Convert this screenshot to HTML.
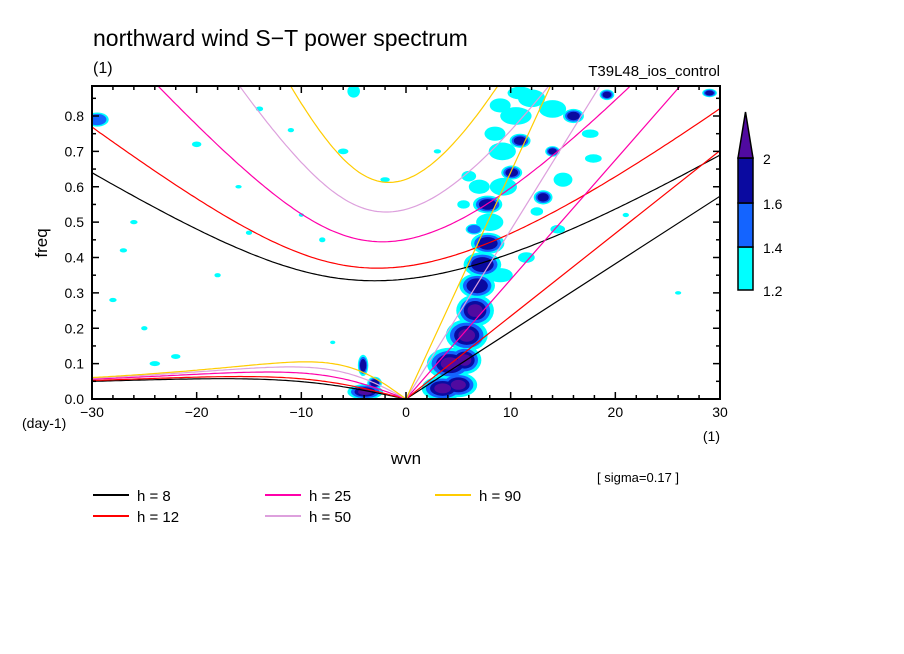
<!DOCTYPE html>
<html><head><meta charset="utf-8"><style>
body{margin:0;background:#fff;}
svg{display:block;font-family:"Liberation Sans",sans-serif;}
</style></head><body>
<svg id="chart" width="904" height="654" viewBox="0 0 904 654">
<defs><clipPath id="pc"><rect x="92" y="86" width="628" height="313"/></clipPath></defs>
<text x="93" y="46" font-size="23">northward wind S−T power spectrum</text>
<text x="93" y="73" font-size="16">(1)</text>
<text x="720" y="76" font-size="15" text-anchor="end">T39L48_ios_control</text>
<g id="blobs" clip-path="url(#pc)"></g>
<g id="curves" clip-path="url(#pc)"></g>
<g id="axes"></g>
<text transform="translate(47,243) rotate(-90)" font-size="17" text-anchor="middle">freq</text>
<text x="22" y="428" font-size="14">(day-1)</text>
<text x="720" y="441" font-size="14" text-anchor="end">(1)</text>
<text x="406" y="464" font-size="17" text-anchor="middle">wvn</text>
<text x="597" y="482" font-size="13">[ sigma=0.17 ]</text>
<g id="legend"></g>
<g id="cbar"></g>
</svg>
<script>
const heights=[8,12,25,50,90];
const curveColors=["#000000","#ff0000","#ff00aa","#dda0dd","#ffcc00"];
const levelColors=["#00ffff","#1464ff","#0a0aa0","#500aa0"];
const levelLabels=["1.2","1.4","1.6","2"];
const xTicks=[-30,-20,-10,0,10,20,30];
const yTicks=[0,0.1,0.2,0.3,0.4,0.5,0.6,0.7,0.8];
const blobWvn=[3.5,5,4.2,5.6,5.8,6.6,6.8,7.3,7.8,8,7.8,9.3,10.1,9.2,10.9,10.5,12,14,13.1,15,6,5.5,9,16,12.5,14.5,17.6,17.9,19.2,29,10.9,14,-29.5,-5,-3.9,-4.1,-3,-6,-20,-14,-8,-26,-28,-24,-18,-11,-10,-15,-22,-27,-25,-16,-7,26,21,-2,3,9,11.5,7,8.5,6.5];
const blobFreq=[0.03,0.04,0.1,0.11,0.18,0.25,0.32,0.38,0.44,0.5,0.55,0.6,0.64,0.7,0.73,0.8,0.85,0.82,0.57,0.62,0.63,0.55,0.83,0.8,0.53,0.48,0.75,0.68,0.86,0.865,0.865,0.7,0.79,0.87,0.02,0.095,0.045,0.7,0.72,0.82,0.45,0.5,0.28,0.1,0.35,0.76,0.52,0.47,0.12,0.42,0.2,0.6,0.16,0.3,0.52,0.62,0.7,0.35,0.4,0.6,0.75,0.48];
const blobRx=[2.0,1.8,2.2,1.6,2.0,1.8,1.7,1.8,1.6,1.3,1.4,1.3,1.0,1.3,1.0,1.5,1.3,1.3,0.9,0.9,0.7,0.6,1.0,1.0,0.6,0.7,0.8,0.8,0.7,0.7,1.2,0.7,1.1,0.6,1.7,0.5,0.7,0.5,0.45,0.35,0.3,0.35,0.35,0.5,0.3,0.3,0.25,0.3,0.45,0.35,0.3,0.3,0.25,0.3,0.3,0.45,0.35,1.2,0.8,1.0,1.0,0.8];
const blobRy=[0.035,0.035,0.045,0.04,0.045,0.045,0.035,0.035,0.03,0.025,0.025,0.025,0.02,0.025,0.02,0.025,0.025,0.025,0.02,0.02,0.015,0.012,0.02,0.02,0.012,0.012,0.012,0.012,0.015,0.012,0.018,0.015,0.02,0.018,0.022,0.03,0.018,0.008,0.008,0.007,0.007,0.006,0.006,0.007,0.006,0.006,0.005,0.006,0.007,0.006,0.006,0.005,0.005,0.005,0.006,0.007,0.006,0.02,0.015,0.02,0.02,0.015];
const blobLevel=[4,4,4,4,4,4,3,3,3,1,3,1,3,1,3,1,1,1,3,1,1,1,1,3,1,1,1,1,3,3,1,3,2,1,4,3,3,1,1,1,1,1,1,1,1,1,1,1,1,1,1,1,1,1,1,1,1,1,1,1,1,2];

const X0=92,X1=720,Y0=399,YT=86;
const xs=w=>X0+(w+30)/60*(X1-X0);
const ys=f=>Y0-f/0.1*35.375;
const NS="http://www.w3.org/2000/svg";
function mk(tag,attrs,parent){const e=document.createElementNS(NS,tag);for(const k in attrs)e.setAttribute(k,attrs[k]);parent.appendChild(e);return e;}
const pxPerW=(X1-X0)/60, pxPerF=353.75;

const gb=document.getElementById('blobs');
for(let lev=1;lev<=4;lev++){
  for(let i=0;i<blobWvn.length;i++){
    if(blobLevel[i]<lev)continue;
    const s=1-(lev-1)*0.2;
    const e=mk('ellipse',{cx:xs(blobWvn[i]),cy:ys(blobFreq[i]),rx:blobRx[i]*pxPerW*s,ry:blobRy[i]*pxPerF*s,fill:levelColors[lev-1]},gb);
    
    
  }
}

const beta=2.29e-11,a=6.371e6,g=9.8;
const toF=w=>w*86400/(2*Math.PI);
function fcub(om,k,c){return om*om*om-(c*c*k*k+3*beta*c)*om-beta*c*c*k;}
function bis(lo,hi,k,c){let flo=fcub(lo,k,c);for(let i=0;i<80;i++){const m=(lo+hi)/2;const fm=fcub(m,k,c);if((fm>0)===(flo>0)){lo=m;flo=fm;}else hi=m;}return (lo+hi)/2;}
const gc=document.getElementById('curves');
heights.forEach((h,hi)=>{
  const c=Math.sqrt(g*h);
  let ig=[],ro=[];
  for(let w=-30;w<=30.001;w+=0.25){
    const k=w/a;const A=c*c*k*k+3*beta*c;const m=Math.sqrt(A/3);
    ig.push([xs(w),ys(toF(bis(m,3*Math.sqrt(A)+1e-5,k,c)))]);
    if(w<0)ro.push([xs(w),ys(toF(bis(0,m,k,c)))]);
  }
  ro.push([xs(0),ys(0)]);
  const kel=[[xs(0),ys(0)],[xs(30),ys(toF(c*30/a))]];
  [[ig,'ig-curve'],[ro,'rossby-curve'],[kel,'kelvin-line']].forEach(([pts,nm])=>{
    const p=mk('polyline',{points:pts.map(q=>q[0].toFixed(1)+','+q[1].toFixed(1)).join(' '),fill:'none',stroke:curveColors[hi],'stroke-width':1.2},gc);
    
    
  });
});

const ga=document.getElementById('axes');
mk('rect',{x:X0,y:YT,width:X1-X0,height:Y0-YT,fill:'none',stroke:'#000','stroke-width':2},ga);
for(let w=-30;w<=30;w+=2){const x=xs(w);const L=(w%10===0)?7:4;
  mk('line',{x1:x,y1:Y0,x2:x,y2:Y0-L,stroke:'#000','stroke-width':1.5},ga);
  mk('line',{x1:x,y1:YT,x2:x,y2:YT+L,stroke:'#000','stroke-width':1.5},ga);}
for(let f=0;f<=0.88;f+=0.05){const y=ys(f);const L=(Math.round(f*20)%2===0)?7:4;
  mk('line',{x1:X0,y1:y,x2:X0+L,y2:y,stroke:'#000','stroke-width':1.5},ga);
  mk('line',{x1:X1,y1:y,x2:X1-L,y2:y,stroke:'#000','stroke-width':1.5},ga);}
xTicks.forEach(w=>{const t=mk('text',{x:xs(w),y:417,'font-size':14,'text-anchor':'middle'},ga);t.textContent=(w<0?'−':'')+Math.abs(w);
  });
yTicks.forEach(f=>{const t=mk('text',{x:84,y:ys(f)+5,'font-size':14,'text-anchor':'end'},ga);t.textContent=f.toFixed(1);
  });

const gl=document.getElementById('legend');
const lx=[93,93,265,265,435],ly=[495,516,495,516,495];
heights.forEach((h,i)=>{
  const l=mk('line',{x1:lx[i],y1:ly[i],x2:lx[i]+36,y2:ly[i],stroke:curveColors[i],'stroke-width':2},gl);
  
  const t=mk('text',{x:lx[i]+44,y:ly[i]+6,'font-size':15,'xml:space':'preserve'},gl);t.textContent='h = '+(h<10?' ':'')+h;
  
});

const gcb=document.getElementById('cbar');
const cbY=[290,247,203,158];
for(let i=0;i<3;i++){const r=mk('rect',{x:738,y:cbY[i+1],width:15,height:cbY[i]-cbY[i+1],fill:levelColors[i],stroke:'#000','stroke-width':1.5},gcb);
  }
const tri=mk('polygon',{points:'738,158 753,158 745.5,112',fill:levelColors[3],stroke:'#000','stroke-width':1.5},gcb);

levelLabels.forEach((s,i)=>{const t=mk('text',{x:763,y:cbY[i]+6,'font-size':14},gcb);t.textContent=s;
  });
</script>
</body></html>
